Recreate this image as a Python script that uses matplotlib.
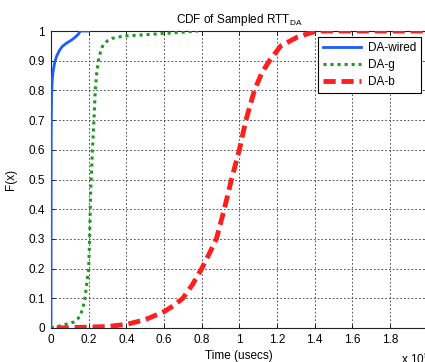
import matplotlib
matplotlib.use('Agg')
import matplotlib.pyplot as plt
import numpy as np

plt.rcParams['font.family'] = ['Liberation Sans', 'DejaVu Sans']

# CDF curves, time in units of 1e5 usecs
wired_x = [0, 0.001, 0.003, 0.006, 0.01, 0.02, 0.03, 0.045, 0.06, 0.08, 0.11, 0.13, 0.146, 0.155, 0.2]
wired_f = [0, 0.65, 0.78, 0.83, 0.86, 0.895, 0.915, 0.935, 0.948, 0.958, 0.97, 0.98, 0.99, 1.0, 1.0]

g_x = [0, 0.03, 0.065, 0.1, 0.12, 0.14, 0.155, 0.17, 0.18, 0.19, 0.2, 0.205, 0.21, 0.22, 0.228,
       0.235, 0.243, 0.252, 0.263, 0.276, 0.3, 0.323, 0.385, 0.465, 0.56, 0.67, 0.78]
g_f = [0, 0.004, 0.01, 0.016, 0.02, 0.03, 0.04, 0.07, 0.1, 0.15, 0.2, 0.3, 0.45, 0.6, 0.7,
       0.8, 0.86, 0.9, 0.93, 0.953, 0.967, 0.975, 0.983, 0.986, 0.99, 0.995, 1.0]

b_x = [0.03, 0.1, 0.2, 0.3, 0.4, 0.5, 0.6, 0.65, 0.7, 0.75, 0.8, 0.84, 0.878, 0.92, 0.958,
       1.0, 1.035, 1.08, 1.12, 1.16, 1.22, 1.31, 1.41, 1.6, 2.0]
b_f = [0, 0.001, 0.003, 0.005, 0.012, 0.028, 0.055, 0.075, 0.1, 0.145, 0.2, 0.25, 0.3, 0.4, 0.5,
       0.6, 0.7, 0.8, 0.86, 0.9, 0.95, 0.98, 1.0, 1.0, 1.0]

xticks = np.arange(0, 2.01, 0.2)
yticks = np.arange(0, 1.01, 0.1)

fig = plt.figure(figsize=(4.25, 3.62), dpi=100)
ax = fig.add_axes([51/425, 34/362, 376.7/425, 297/362])

ax.plot(wired_x, wired_f, color='#1a5cff', lw=2.0, label='DA-wired', zorder=3)
ax.plot(g_x, g_f, color='#1f961f', lw=2.2, dashes=(1, 1.3), label='DA-g', zorder=3)
ax.plot(b_x, b_f, color='#ff1f1f', lw=3.5, dashes=(2.5, 1.2), label='DA-b', zorder=3)

ax.set_xlim(0, 2)
ax.set_ylim(0, 1)
ax.set_xticks(xticks)
ax.set_xticklabels(['%g' % round(t, 1) for t in xticks])
ax.set_yticks(yticks)
ax.set_yticklabels(['%g' % round(t, 1) for t in yticks])
ax.tick_params(direction='in', length=3, width=0.6, top=True, right=True,
               labelsize=8.5, pad=4.5)
ax.grid(True, color='#333333', linestyle=(0, (2, 2.5)), linewidth=0.6)
for s in ax.spines.values():
    s.set_linewidth(0.8)
    s.set_color('#222222')

ax.set_title('CDF of Sampled RTT$_{\\mathregular{DA}}$', fontsize=8.5, pad=6)
ax.set_xlabel('Time (usecs)', fontsize=8.5, labelpad=3)
ax.set_ylabel('F(x)', fontsize=8.5, labelpad=8)
fig.text(401/425, 3/362, 'x 10$^{\\mathregular{5}}$', fontsize=8.5, va='center', ha='left')

leg = ax.legend(loc='upper right', bbox_to_anchor=(421/425, 1 - 37/362),
                bbox_transform=fig.transFigure, borderaxespad=0, fontsize=8.5,
                fancybox=False, framealpha=1, handlelength=3.2, labelspacing=0.45,
                borderpad=0.4, handletextpad=0.6)
leg.get_frame().set_edgecolor('black')
leg.get_frame().set_linewidth(0.8)

fig.savefig('out.png', dpi=100)
